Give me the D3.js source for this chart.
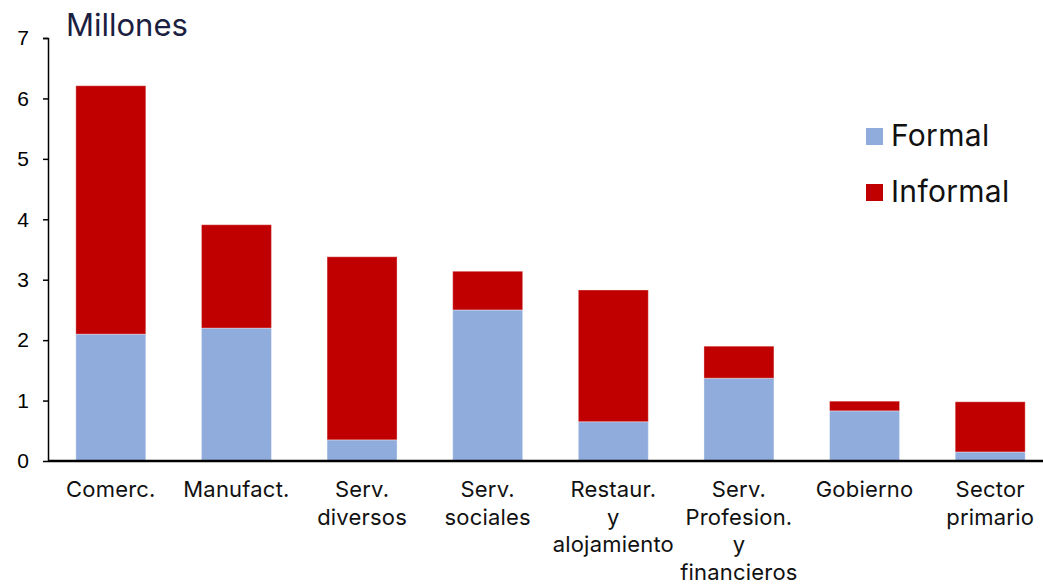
<!DOCTYPE html>
<html><head><meta charset="utf-8">
<script src="https://cdn.jsdelivr.net/npm/d3@7"></script>
<style>body{margin:0;background:#fff}svg{display:block}</style>
</head><body>
<script>
const categories = [["Comerc."],["Manufact."],["Serv.","diversos"],["Serv.","sociales"],["Restaur.","y","alojamiento"],["Serv.","Profesion.","y","financieros"],["Gobierno"],["Sector","primario"]];
const formal = [2.10, 2.20, 0.35, 2.50, 0.65, 1.37, 0.83, 0.15];
const informal = [4.11, 1.71, 3.03, 0.64, 2.18, 0.53, 0.16, 0.83];
const yTicks = [0,1,2,3,4,5,6,7];
const seriesNames = ["Formal","Informal"];
const colors = ["#8FACDC","#C00000"];

const W=1043,H=586;
const svg=d3.select("body").append("svg").attr("width",W).attr("height",H);
const x=d3.scaleBand().domain(d3.range(categories.length)).range([48,1053]).paddingInner(0.443).paddingOuter(0.2215);
const y=d3.scaleLinear().domain([0,7]).range([461,38]);

const stackData = categories.map((c,i)=>({i, Formal:formal[i], Informal:informal[i]}));
const stacked = d3.stack().keys(seriesNames)(stackData);
svg.append("g").selectAll("g").data(stacked).join("g").attr("fill",(d,k)=>colors[k])
 .selectAll("rect").data(d=>d).join("rect")
 .attr("x",d=>x(d.data.i)).attr("width",x.bandwidth())
 .attr("y",d=>y(d[1])).attr("height",d=>y(d[0])-y(d[1]))
 .attr("stroke","rgba(255,255,255,0.35)").attr("stroke-width",1);

// y axis
const ya=svg.append("g").attr("transform","translate(48,0)")
 .call(d3.axisLeft(y).tickValues(yTicks).tickFormat(d3.format("d")).tickSize(5).tickPadding(14));
ya.select(".domain").attr("d","M-5,38.5H0.5V461").attr("stroke","#000").attr("stroke-width",1.5);
ya.selectAll(".tick line").attr("stroke","#000").attr("stroke-width",1.5);
ya.selectAll("text").attr("font-family","Liberation Sans, Arial, sans-serif").attr("font-size",21).attr("fill","#000");

// x baseline
svg.append("line").attr("x1",48).attr("x2",W).attr("y1",461).attr("y2",461).attr("stroke","#000").attr("stroke-width",2.5);

// category labels
const cl=svg.append("g").selectAll("text").data(categories).join("text")
 .attr("x",(d,i)=>x(i)+x.bandwidth()/2).attr("y",497)
 .attr("text-anchor","middle").attr("font-family","Inter, sans-serif").attr("font-size",22).attr("letter-spacing",0.2).attr("fill","#111");
cl.each(function(d){const t=d3.select(this);d.forEach((s,j)=>t.append("tspan").attr("x",t.attr("x")).attr("dy",j?27.5:0).text(s));});

// title
svg.append("text").attr("x",66).attr("y",36).text("Millones").attr("font-family","Inter, sans-serif").attr("font-size",31).attr("fill","#1B2040");

// legend
const lg=svg.append("g").selectAll("g").data(seriesNames).join("g").attr("transform",(d,i)=>`translate(866,${128+i*56})`);
lg.append("rect").attr("width",17).attr("height",17).attr("fill",(d,i)=>colors[i]);
lg.append("text").attr("x",25).attr("y",18).text(d=>d).attr("font-family","Inter, sans-serif").attr("font-size",30).attr("letter-spacing",0.3).attr("fill","#111");
</script>
</body></html>
